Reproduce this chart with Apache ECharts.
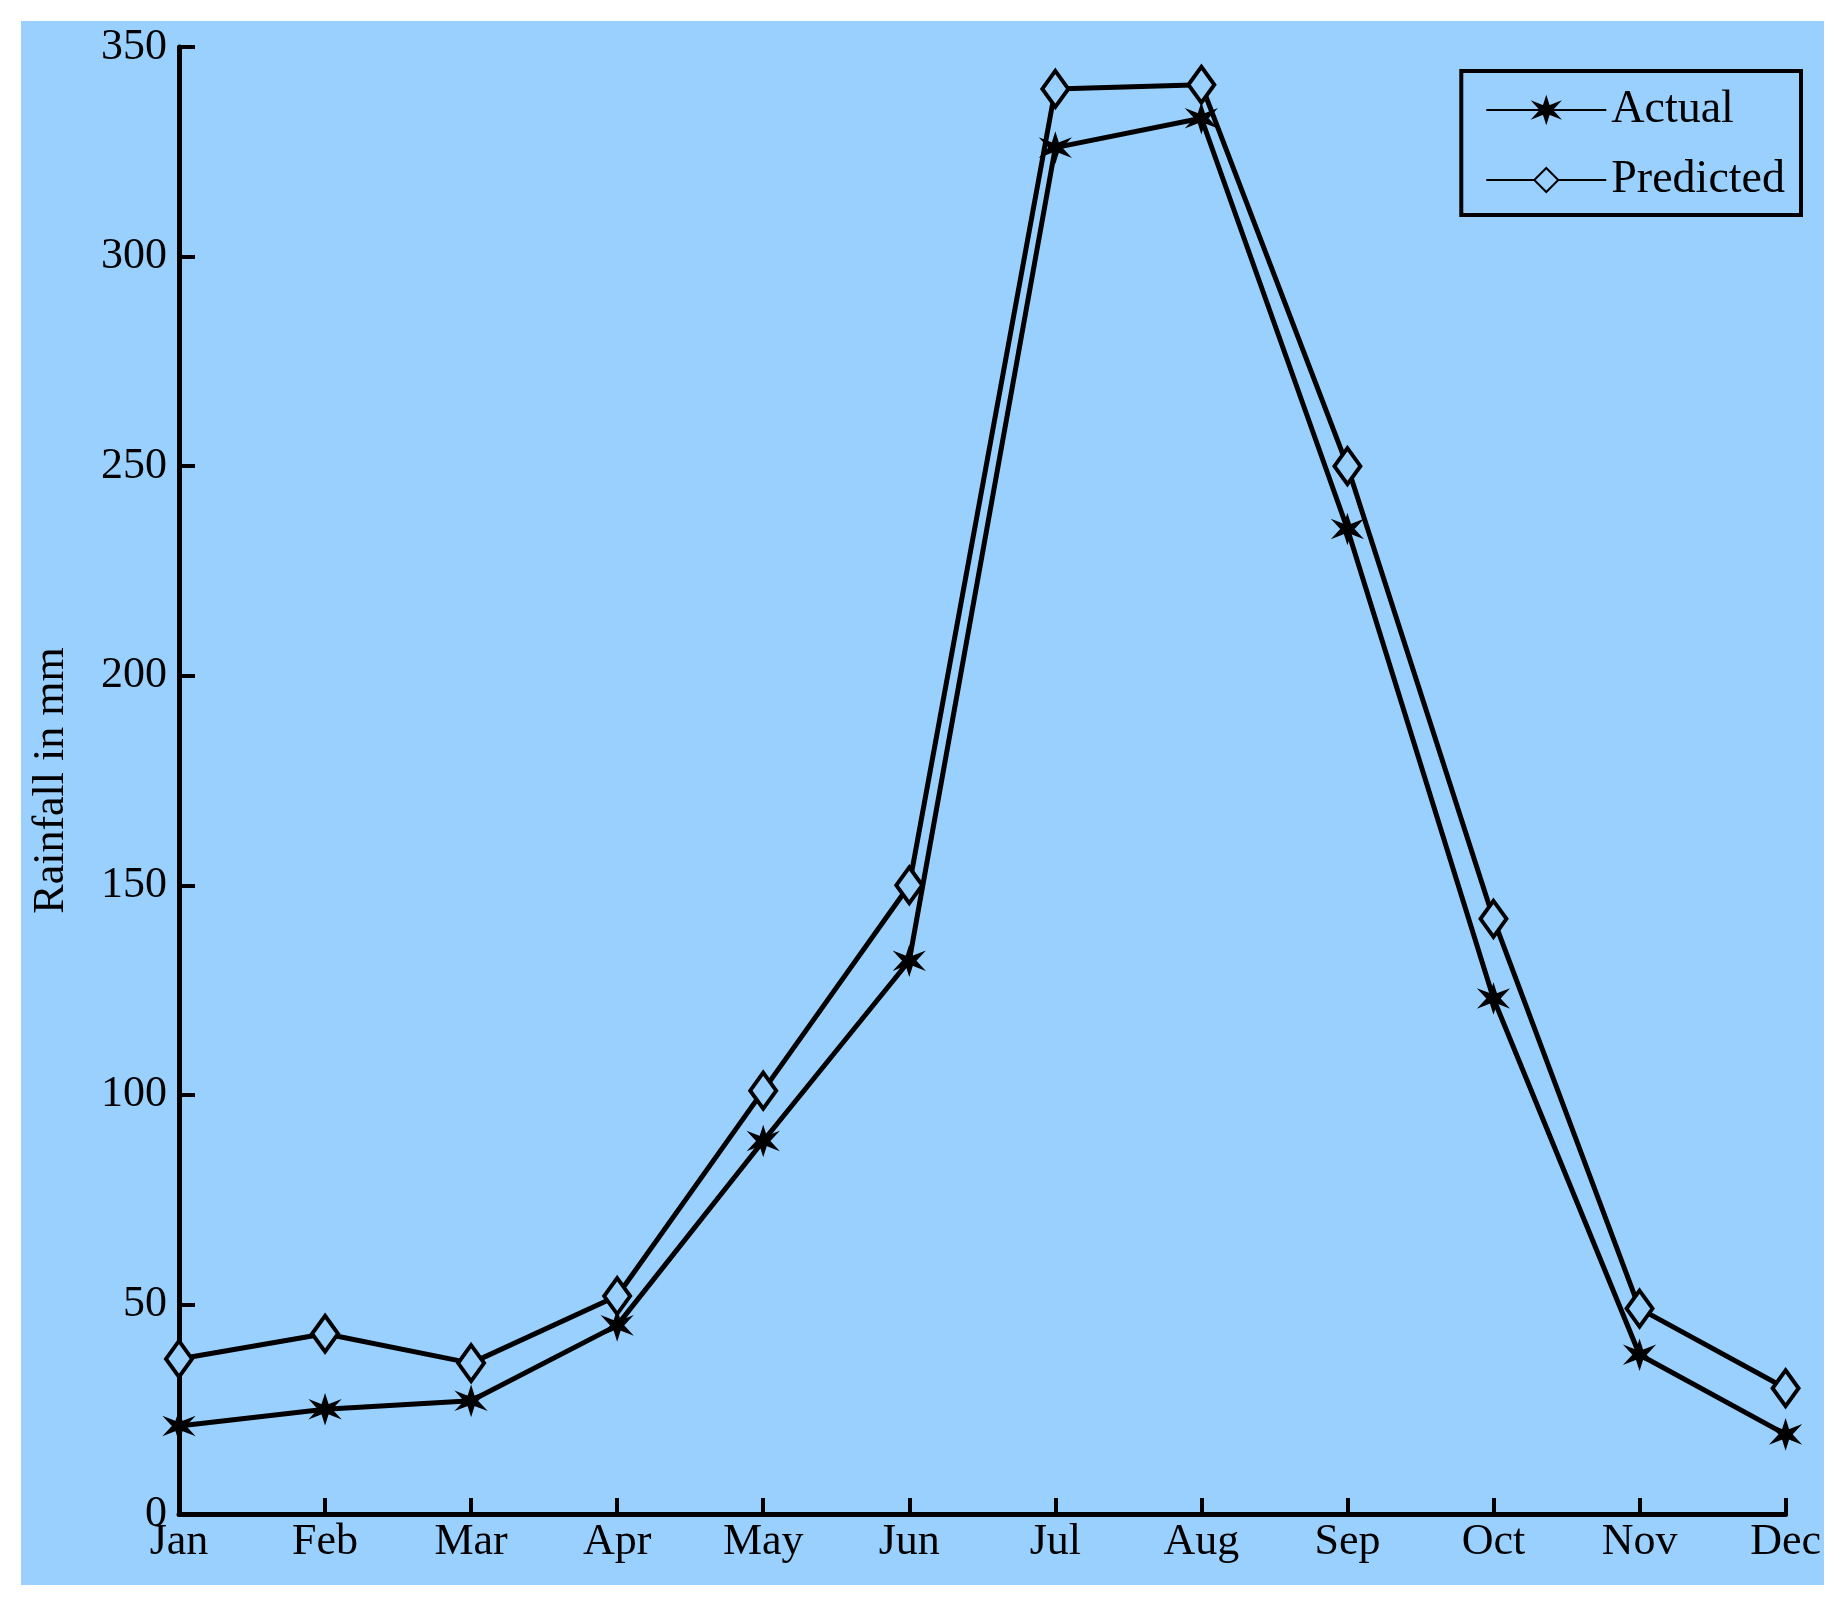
<!DOCTYPE html><html><head><meta charset="utf-8">
<script src="https://cdn.jsdelivr.net/npm/echarts@6/dist/echarts.min.js"></script>
<style>html,body{margin:0;background:#fff;width:1844px;height:1601px;overflow:hidden}
#c{position:absolute;left:21px;top:21px;width:1803px;height:1564px;background:#99d0fd}</style></head><body><div id="c"></div>
<script>
const months=['Jan','Feb','Mar','Apr','May','Jun','Jul','Aug','Sep','Oct','Nov','Dec'];
const actual=[21,25,27,45,89,132,326,333,235,123,38,19];
const predicted=[37,43,36,52,101,150,340,341,250,142,49,30];
const yTicks=[0,50,100,150,200,250,300,350];
const star='path://M0,-10L2,-3L9,-6L4,0L9,6L2,3L0,10L-2,3L-9,6L-4,0L-9,-6L-2,-3Z';
const f='Liberation Serif';
const c=echarts.init(document.getElementById('c'));
c.setOption({
 animation:false,
 grid:{left:127,right:33,top:26,bottom:71},
 legend:{right:23,top:50,orient:'vertical',itemWidth:120,itemHeight:30,itemGap:24,
  padding:[16,16,12,24],borderColor:'#000',borderWidth:4,backgroundColor:'#99d0fd',
  textStyle:{fontFamily:f,fontSize:46,color:'#000'},
  data:['Actual','Predicted']},
 xAxis:{type:'category',data:months,boundaryGap:false,
  axisLine:{lineStyle:{color:'#000',width:5}},
  axisTick:{inside:true,length:16,lineStyle:{width:4,color:'#000'}},
  axisLabel:{fontFamily:f,fontSize:44,color:'#000',margin:6,interval:0}},
 yAxis:{type:'value',min:0,max:350,interval:50,name:'Rainfall in mm',nameLocation:'middle',nameGap:106,
  nameTextStyle:{fontFamily:f,fontSize:44,color:'#000'},
  axisLine:{show:true,lineStyle:{color:'#000',width:5}},
  axisTick:{show:true,inside:true,length:16,lineStyle:{width:4,color:'#000'}},
  splitLine:{show:false},
  axisLabel:{fontFamily:f,fontSize:44,color:'#000',margin:12,formatter:v=>yTicks.includes(v)?String(v):''}},
 series:[
  {name:'Actual',type:'line',data:actual,symbol:star,symbolSize:26,
   lineStyle:{color:'#000',width:5},itemStyle:{color:'#000',borderColor:'#000',borderWidth:2}},
  {name:'Predicted',type:'line',data:predicted,symbol:'diamond',symbolSize:[26,36],
   lineStyle:{color:'#000',width:5},itemStyle:{color:'#99d0fd',borderColor:'#000',borderWidth:4}}
 ]});
</script></body></html>
